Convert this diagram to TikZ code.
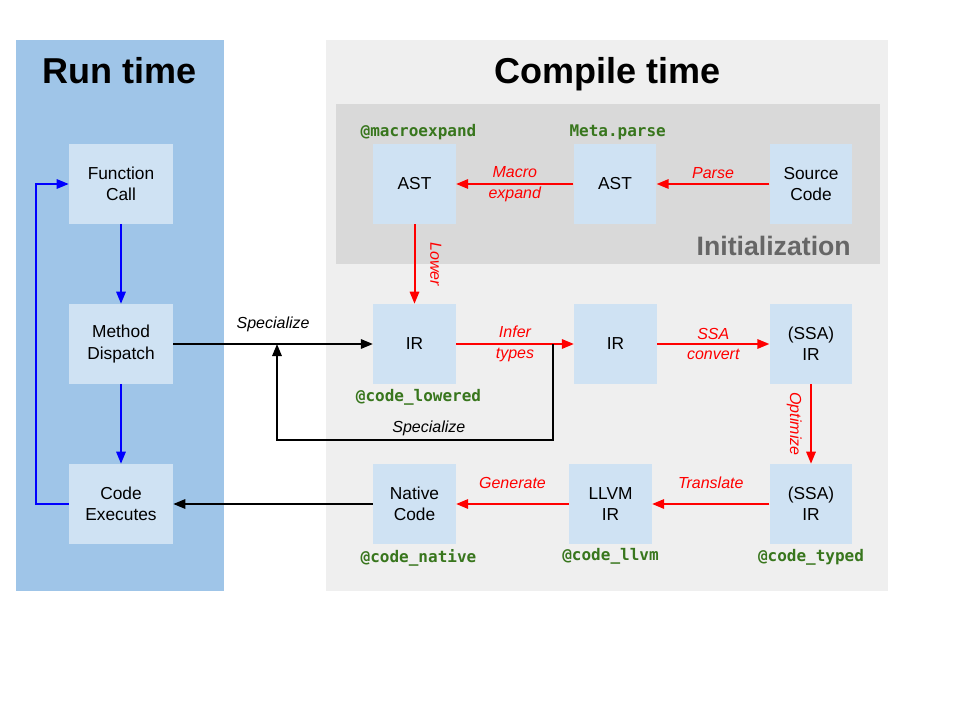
\documentclass[tikz,border=0pt]{standalone}
\usepackage{fontspec}
\setmainfont{Liberation Sans}
\newfontfamily\codefont{DejaVu Sans Mono}
\usetikzlibrary{arrows.meta,positioning}
\definecolor{runblue}{HTML}{9FC5E8}
\definecolor{stagefill}{HTML}{CFE2F3}
\definecolor{compilegray}{HTML}{EFEFEF}
\definecolor{initgray}{HTML}{D9D9D9}
\definecolor{inittext}{HTML}{666666}
\definecolor{codegreen}{HTML}{38761D}

\begin{document}
\begin{tikzpicture}[x=0.75pt, y=-0.75pt,
  every node/.style = {font=\fontsize{13}{16}\selectfont, align=center},
  stage/.style = {fill=stagefill, inner sep=0pt, minimum width=62pt, minimum height=60pt},
  callstage/.style = {stage, minimum width=78pt},
  title/.style = {font=\fontsize{27}{30}\selectfont\bfseries, anchor=base},
  codelabel/.style = {font=\fontsize{12}{14}\codefont\bfseries, text=codegreen, inner sep=1pt},
  passlabel/.style = {font=\fontsize{12}{15.5}\selectfont\itshape, text=red},
  compile/.style = {red, line width=1.5pt, -{Triangle[length=9pt,width=7pt]}},
  runflow/.style = {blue, line width=1.5pt, -{Triangle[length=9pt,width=7pt]}},
  handoff/.style = {black, line width=1.5pt, -{Triangle[length=9pt,width=7pt]}}]
  \useasboundingbox (0,0) rectangle (960,720);
  \fill[runblue] (16,40) rectangle (224,591);
  \fill[compilegray] (326,40) rectangle (888,591);
  \fill[initgray] (336,104) rectangle (880,264);
  \node[title] (runtitle) at (120,84) {Run time};
  \node[title] (comptitle) at (608,84) {Compile time};
  \node[font=\fontsize{20}{24}\selectfont\bfseries, text=inittext, inner sep=0pt, anchor=base east] (inittitle) at (851,256) {Initialization};

  \node[callstage] (fcall) at (121,184) {Function\\Call};
  \node[callstage] (dispatch) at (121,344) {Method\\Dispatch};
  \node[callstage] (exec) at (121,504) {Code\\Executes};

  \node[stage] (astmacro) at (414.5,184) {AST};
  \node[stage] (astparse) at (615,184) {AST};
  \node[stage] (source) at (811,184) {Source\\Code};
  \node[stage] (irlow) at (414.5,344) {IR};
  \node[stage] (irtyped) at (615.5,344) {IR};
  \node[stage] (ssair) at (811,344) {(SSA)\\IR};
  \node[stage] (ssaopt) at (811,504) {(SSA)\\IR};
  \node[stage] (llvm) at (610.5,504) {LLVM\\IR};
  \node[stage] (native) at (414.5,504) {Native\\Code};

  \node[codelabel, above=1.5pt of astmacro, xshift=3pt] (macrolabel) {@macroexpand};
  \node[codelabel, above=1.5pt of astparse, xshift=2pt] (parselabel) {Meta.parse};
  \node[codelabel, below=2.5pt of irlow, xshift=3pt] (loweredlabel) {@code\_lowered};
  \node[codelabel, below=2.5pt of native, xshift=3pt] (nativelabel) {@code\_native};
  \node[codelabel, below=2pt of llvm] (llvmlabel) {@code\_llvm};
  \node[codelabel, below=2.5pt of ssaopt] (typedlabel) {@code\_typed};

  \draw[runflow] (fcall) -- (dispatch);
  \draw[runflow] (dispatch) -- (exec);
  \draw[runflow] (exec.west) -- ++(-33,0) |- (fcall.west);

  \draw[compile] (source) -- node[passlabel, above] {Parse} (astparse);
  \draw[compile] (astparse) -- node[passlabel] {Macro\\expand} (astmacro);
  \draw[compile] (astmacro) -- node[passlabel, xshift=16pt, rotate=-90] {Lower} (irlow);
  \draw[compile] (irlow) -- node[passlabel] {Infer\\types} (irtyped);
  \draw[compile] (irtyped) -- node[passlabel] {SSA\\convert} (ssair);
  \draw[compile] (ssair) -- node[passlabel, xshift=-12.5pt, rotate=-90] {Optimize} (ssaopt);
  \draw[compile] (ssaopt) -- node[passlabel, above=7.5pt] {Translate} (llvm);
  \draw[compile] (llvm) -- node[passlabel, above=7.5pt] {Generate} (native);

  \draw[handoff] (native) -- (exec);
  \draw[handoff] (dispatch) -- node[passlabel, text=black, above=5pt] {Specialize} (irlow);
  \coordinate (fork) at (553,344);
  \coordinate (merge) at (277,344);
  \draw[handoff] (fork) -- (553,440) -- node[passlabel, text=black, above=-1pt, pos=0.45] {Specialize} (277,440) -- (merge);
\end{tikzpicture}
\end{document}
